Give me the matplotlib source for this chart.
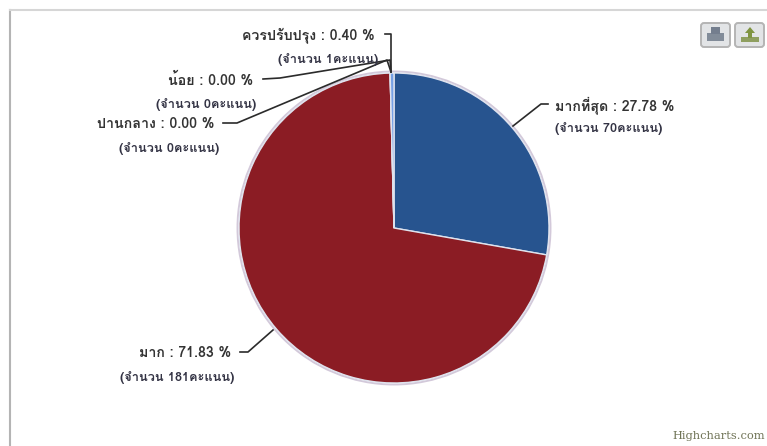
import matplotlib
matplotlib.use('Agg')
import matplotlib.pyplot as plt
from matplotlib.patches import FancyBboxPatch, Polygon, Rectangle

plt.rcParams['font.family'] = ['Loma', 'DejaVu Sans']

# --- DATA ---
categories = ['มากที่สุด', 'มาก', 'ปานกลาง', 'น้อย', 'ควรปรับปรุง']
scores = [70, 181, 0, 0, 1]
percents = ['27.78', '71.83', '0.00', '0.00', '0.40']
slice_colors = ['#27548f', '#8b1c24', '#8bbc21', '#910000', '#77a1e5']

# --- LAYOUT (pixels, y measured from the top) ---
W, H = 767, 446
CX, CY, R = 394, 228, 155
# anchor of each two-line label: (x line 1, y line 1, x line 2, y line 2, alignment)
label_pos = [
    (555, 105, 555, 128, 'left'),
    (231, 353, 234, 377, 'right'),
    (214, 124, 219, 148, 'right'),
    (253, 80, 256, 104, 'right'),
    (375, 35, 378, 59, 'right'),
]
connectors = [
    [(513, 126), (541, 104), (548, 104)],
    [(273, 330), (248, 352), (240, 352)],
    [(391, 72), (387, 60), (237, 123), (223, 123)],
    [(391, 72), (390, 60), (280, 78), (263, 79)],
    [(391, 72), (391, 34), (385, 34)],
]

def py(y):
    return H - y

fig = plt.figure(figsize=(W / 100, H / 100), dpi=100)
ax = fig.add_axes([0, 0, 1, 1])

# chart frame, only the top and left edges are in view
ax.plot([10, 10], [py(446), py(10)], color='#b4b4b4', lw=1.5, zorder=1)
ax.plot([10, 767], [py(10), py(10)], color='#d6d6d6', lw=1.5, zorder=1)

# soft halo around the pie
halo = plt.Circle((CX, py(CY)), R + 1.5, fc='none', ec='#d3c9da', lw=1.4, zorder=1)
ax.add_patch(halo)

wedges, _ = ax.pie(scores, colors=slice_colors, startangle=90, counterclock=False,
                   center=(CX, py(CY)), radius=R, frame=True,
                   wedgeprops={'edgecolor': '#dfe3ee', 'linewidth': 1.0})

for pts in connectors:
    ax.plot([p[0] for p in pts], [py(p[1]) for p in pts], color='#2b2b2b', lw=1.2,
            solid_joinstyle='round', zorder=4)

for name, n, pct, (x1, y1, x2, y2, ha) in zip(categories, scores, percents, label_pos):
    ax.text(x1, py(y1), f'{name} : {pct} %', ha=ha, va='center', fontsize=10.2,
            fontweight='bold', color='#333333', zorder=5)
    ax.text(x2, py(y2), f'(จำนวน {n}คะแนน)', ha=ha, va='center', fontsize=9.2,
            fontweight='bold', color='#333344', zorder=5)

# export buttons in the top right corner
for bx in (701, 735):
    ax.add_patch(FancyBboxPatch((bx, py(47)), 29, 24, boxstyle='round,pad=0,rounding_size=3',
                                fc='#e2e4e6', ec='#b4b4b4', lw=1.4, zorder=3))
ax.add_patch(Rectangle((707, py(41)), 17, 8, fc='#828c99', ec='none', zorder=4))
ax.add_patch(Rectangle((711, py(34)), 9, 7, fc='#747e8e', ec='none', zorder=4))
ax.add_patch(Rectangle((741, py(42)), 18, 5, fc='#8f9f60', ec='none', zorder=4))
ax.add_patch(Polygon([(745, py(33)), (755, py(33)), (750, py(27))], fc='#7f9440', ec='none', zorder=4))
ax.add_patch(Rectangle((748, py(38)), 4, 6, fc='#7f9440', ec='none', zorder=4))

ax.text(765, py(436), 'Highcharts.com', ha='right', va='center', fontsize=8.2,
        family=['DejaVu Serif'], color='#6f7355', zorder=5)

ax.set_xlim(0, W)
ax.set_ylim(0, H)
ax.axis('off')

fig.savefig('out.png', dpi=100)
plt.close()
